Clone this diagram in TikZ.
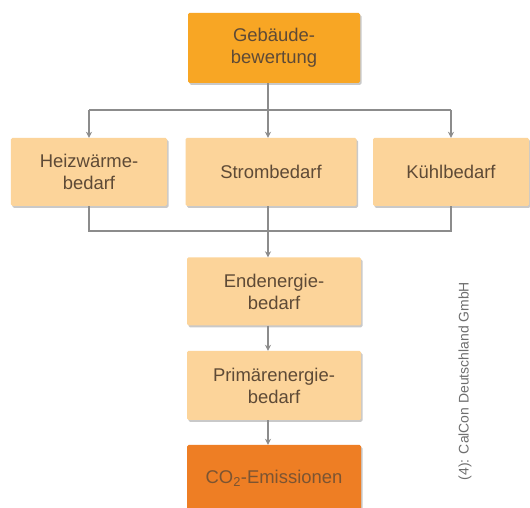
\documentclass[tikz,border=0pt]{standalone}
\usepackage{fontspec}
\setmainfont{Liberation Sans}
\usetikzlibrary{arrows.meta,shadows,calc}
\definecolor{BoxLight}{RGB}{ 252, 212, 154 }
\definecolor{BoxTop}{RGB}{ 248, 166, 36 }
\definecolor{BoxEnd}{RGB}{ 238, 126, 36 }
\definecolor{TextBrown}{HTML}{5E4A36}
\definecolor{LineGray}{HTML}{8C8C8C}
\definecolor{NoteGray}{HTML}{6E6E6E}
\begin{document}
\begin{tikzpicture}[x=1bp, y=1bp,
    box/.style={fill=BoxLight, text=TextBrown, align=center, inner sep=0pt,
        rounded corners=1.5bp, font=\fontsize{18.5}{22}\selectfont,
        drop shadow={shadow xshift=1.5bp, shadow yshift=-1.8bp, opacity=0.35, fill=black!60}},
    link/.style={LineGray, line width=1.6bp},
    arrow/.style={link, -{Stealth[length=6bp, width=6bp]}}]
\useasboundingbox (0,0) rectangle (530,508);
\fill[white] (0,0) rectangle (530,508);

% boxes
\node[box, fill=BoxTop, minimum width=172bp, minimum height=70bp] (geb) at (274,460) {Gebäude-\\bewertung};
\node[box, minimum width=156bp, minimum height=68bp] (heiz) at (89,336) {Heizwärme-\\bedarf};
\node[box, minimum width=171bp, minimum height=68bp] (strom) at (271,336) {Strombedarf};
\node[box, minimum width=156bp, minimum height=68bp] (kuehl) at (451,336) {Kühlbedarf};
\node[box, minimum width=174bp, minimum height=68bp] (ende) at (274,216.5) {Endenergie-\\bedarf};
\node[box, minimum width=174bp, minimum height=69bp] (prim) at (274,122.5) {Primärenergie-\\bedarf};
\node[box, fill=BoxEnd, text=TextBrown!80!BoxEnd, minimum width=174bp, minimum height=67bp] (co2) at (274,29.5) {CO\textsubscript{2}-Emissionen};

% connectors
\coordinate (split) at (268,398);
\coordinate (merge) at (268,277);
\draw[link] (geb.south -| split) -- (split);
\draw[link] (heiz.north |- split) -- (kuehl.north |- split);
\draw[arrow] (heiz.north |- split) -- (heiz.north);
\draw[arrow] (split) -- (split |- strom.north);
\draw[arrow] (kuehl.north |- split) -- (kuehl.north);

\draw[link] (heiz.south) -- (heiz.south |- merge) -- (kuehl.south |- merge) -- (kuehl.south);
\draw[link] (merge |- strom.south) -- (merge);
\draw[arrow] (merge) -- (merge |- ende.north);
\draw[arrow] (merge |- ende.south) -- (merge |- prim.north);
\draw[arrow] (merge |- prim.south) -- (merge |- co2.north);

\node[rotate=90, text=NoteGray, font=\fontsize{14}{16}\selectfont] (credit) at (465,127) {(4): CalCon Deutschland GmbH};
\end{tikzpicture}
\end{document}
